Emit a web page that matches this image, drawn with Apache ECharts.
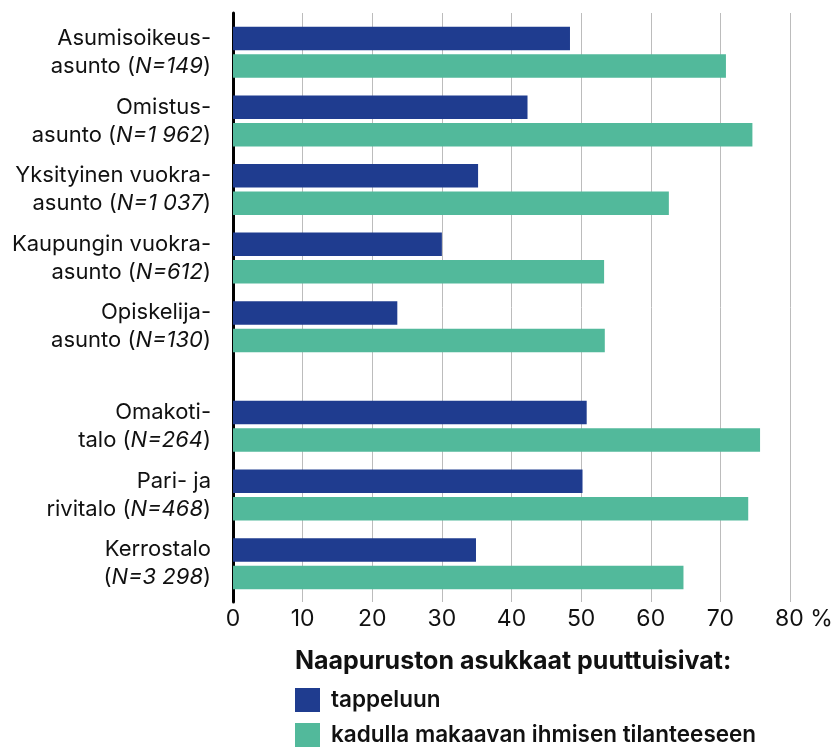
<!DOCTYPE html>
<html>
<head>
<meta charset="utf-8">
<script src="https://cdn.jsdelivr.net/npm/echarts@6/dist/echarts.min.js"></script>
<style>
  html, body { margin: 0; padding: 0; background: #fff; }
  #chart { width: 836px; height: 748px; }
</style>
</head>
<body>
<div id="chart"></div>
<script>
// asumismuodot (ylempi ryhmä)
const tenureTop = ['Asumisoikeus-', 'Omistus-', 'Yksityinen vuokra-', 'Kaupungin vuokra-', 'Opiskelija-']
const tenureBottom = ['asunto', 'asunto', 'asunto', 'asunto', 'asunto']
const tenureN = ['149', '1 962', '1 037', '612', '130']
const tenureFight = [48.4, 42.3, 35.2, 30.0, 23.6]
const tenureLying = [70.8, 74.6, 62.6, 53.3, 53.4]

// talotyypit (alempi ryhmä)
const houseTop = ['Omakoti-', 'Pari- ja', 'Kerrostalo']
const houseBottom = ['talo', 'rivitalo', '']
const houseN = ['264', '468', '3 298']
const houseFight = [50.8, 50.2, 34.9]
const houseLying = [75.7, 74.0, 64.7]

const xTicks = [0, 10, 20, 30, 40, 50, 60, 70, 80]
const seriesNames = ['tappeluun', 'kadulla makaavan ihmisen tilanteeseen']
const legendTitle = 'Naapuruston asukkaat puuttuisivat:'

const BLUE = '#1f3c8f'
const GREEN = '#52b99b'
const FONT = 'Inter, "Liberation Sans", sans-serif'

function makeLabels(top, bottom, n) {
  return top.map((t, i) => {
    const pre = bottom[i] ? bottom[i] + ' (' : '('
    return t + '\n' + pre + '{i|N=' + n[i] + '})'
  })
}

const catLabelStyle = {
  show: true,
  margin: 22,
  fontFamily: FONT,
  fontSize: 22,
  color: '#111',
  lineHeight: 28,
  align: 'right',
  rich: {
    i: { fontStyle: 'italic', fontFamily: FONT, fontSize: 22, color: '#111', lineHeight: 28 },
  },
}

const hiddenX = (idx) => ({
  type: 'value', gridIndex: idx, min: 0, max: 80, show: false,
})

const barBase = { type: 'bar', barWidth: 23.5, barGap: '17%' }

const chart = echarts.init(document.getElementById('chart'))
chart.setOption({
  animation: false,
  textStyle: { fontFamily: FONT },
  title: {
    text: legendTitle,
    left: 295,
    top: 649,
    padding: 0,
    textStyle: { fontFamily: FONT, fontSize: 25, fontWeight: 'bold', color: '#111' },
  },
  legend: {
    orient: 'vertical',
    left: 295,
    top: 688,
    padding: 0,
    itemWidth: 25,
    itemHeight: 24,
    itemGap: 11,
    icon: 'rect',
    data: seriesNames,
    textStyle: { fontFamily: FONT, fontSize: 22.5, fontWeight: 600, color: '#111', padding: [0, 0, 0, 6] },
  },
  grid: [
    { left: 233, right: 46, top: 13, bottom: 146 },
    { left: 233, right: 46, top: 18, height: 343 },
    { left: 233, right: 46, top: 392, height: 206 },
  ],
  xAxis: [
    {
      type: 'value',
      gridIndex: 0,
      min: xTicks[0],
      max: xTicks[xTicks.length - 1],
      interval: 10,
      axisLine: { show: false },
      axisTick: { show: false },
      splitLine: { show: true, lineStyle: { color: '#bcbcbc', width: 1 } },
      axisLabel: {
        margin: 6,
        fontFamily: FONT,
        fontSize: 23,
        color: '#111',
        formatter: (v) => (v === 80 ? '{l|}80 %' : String(v)),
        rich: { l: { width: 28 } },
      },
    },
    hiddenX(1),
    hiddenX(2),
  ],
  yAxis: [
    {
      type: 'value',
      gridIndex: 0,
      min: 0,
      max: 1,
      axisLine: { show: true, lineStyle: { color: '#000', width: 3 } },
      axisTick: { show: false },
      axisLabel: { show: false },
      splitLine: { show: false },
    },
    {
      type: 'category',
      gridIndex: 1,
      inverse: true,
      data: makeLabels(tenureTop, tenureBottom, tenureN),
      axisLine: { show: false },
      axisTick: { show: false },
      axisLabel: catLabelStyle,
    },
    {
      type: 'category',
      gridIndex: 2,
      inverse: true,
      data: makeLabels(houseTop, houseBottom, houseN),
      axisLine: { show: false },
      axisTick: { show: false },
      axisLabel: catLabelStyle,
    },
  ],
  series: [
    { ...barBase, name: seriesNames[0], xAxisIndex: 1, yAxisIndex: 1, data: tenureFight, itemStyle: { color: BLUE } },
    { ...barBase, name: seriesNames[1], xAxisIndex: 1, yAxisIndex: 1, data: tenureLying, itemStyle: { color: GREEN } },
    { ...barBase, name: seriesNames[0], xAxisIndex: 2, yAxisIndex: 2, data: houseFight, itemStyle: { color: BLUE } },
    { ...barBase, name: seriesNames[1], xAxisIndex: 2, yAxisIndex: 2, data: houseLying, itemStyle: { color: GREEN } },
  ],
})
</script>
</body>
</html>
